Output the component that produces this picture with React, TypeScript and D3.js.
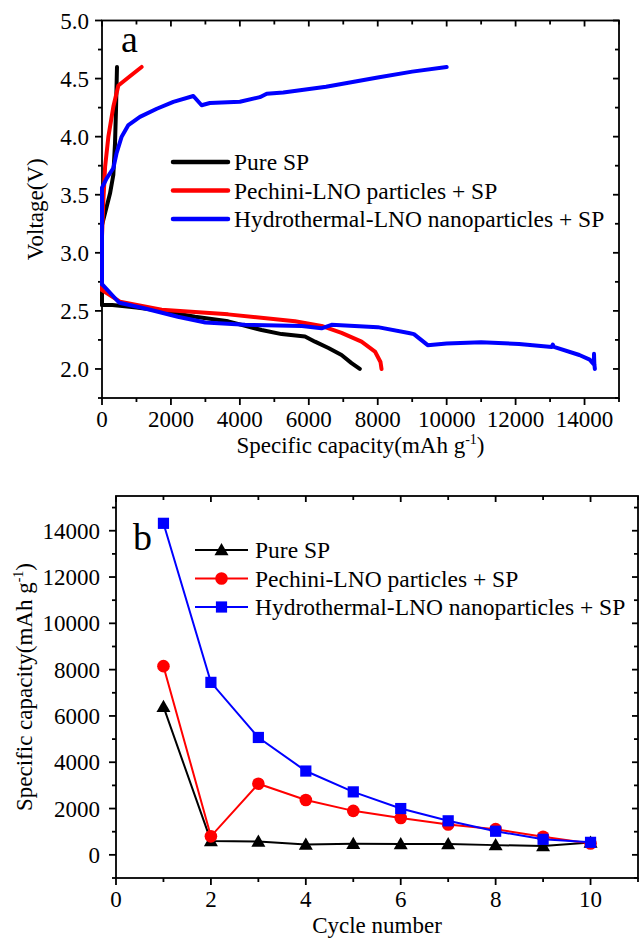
import React from "react";
import * as d3 from "d3";

type Pt = [number, number];

// ---- Panel a: charge/discharge profiles (capacity mAh/g, voltage V) ----
const pureSpDischarge: Pt[] = [[0,2.55],[300,2.55],[660,2.54],[1000,2.53],[1730,2.5],[2700,2.45],[3660,2.41],[4630,2.335],[5210,2.3],[5890,2.28],[6180,2.235],[6570,2.18],[6950,2.12],[7240,2.05],[7480,2.0]];
const pureSpCharge: Pt[] = [[0,2.55],[0,3.24],[87,3.34],[232,3.51],[328,3.67],[377,3.94],[406,4.23],[435,4.6]];
const pechiniDischarge: Pt[] = [[0,2.68],[520,2.58],[1730,2.51],[3660,2.47],[5600,2.41],[6370,2.37],[6950,2.31],[7530,2.235],[7920,2.15],[8080,2.06],[8110,2.0]];
const pechiniCharge: Pt[] = [[0,2.68],[0,3.14],[40,3.45],[90,3.74],[185,4.0],[330,4.26],[475,4.44],[810,4.52],[1150,4.6]];
const hydroDischarge: Pt[] = [[0,2.73],[500,2.57],[1250,2.52],[2200,2.45],[3000,2.4],[4150,2.38],[5800,2.37],[6370,2.35],[6660,2.38],[8000,2.36],[8900,2.31],[9050,2.3],[9450,2.205],[10000,2.22],[11000,2.23],[12100,2.215],[13050,2.19],[13080,2.21],[13110,2.19],[13850,2.12],[14150,2.08],[14270,2.04],[14275,2.13],[14285,2.04],[14300,2.0]];
const hydroCharge: Pt[] = [[0,2.73],[0,3.56],[135,3.64],[330,3.73],[425,3.86],[570,4.0],[765,4.1],[1100,4.17],[1590,4.24],[2070,4.3],[2650,4.35],[2890,4.27],[3130,4.29],[4000,4.3],[4580,4.34],[4780,4.37],[5260,4.38],[6500,4.43],[8000,4.51],[9000,4.56],[10000,4.6]];

const capacityTicksA = [0, 2000, 4000, 6000, 8000, 10000, 12000, 14000];
const voltageTicks = [2.0, 2.5, 3.0, 3.5, 4.0, 4.5, 5.0];

// ---- Panel b: cycling ----
const cycles = [1, 2, 3, 4, 5, 6, 7, 8, 9, 10];
const pureSpCycling = [6400, 600, 580, 450, 480, 470, 470, 420, 380, 530];
const pechiniCycling = [8150, 800, 3070, 2370, 1900, 1590, 1310, 1110, 780, 490];
const hydroCycling = [14320, 7450, 5070, 3620, 2720, 2000, 1470, 1020, 670, 540];

const cycleTicks = [0, 2, 4, 6, 8, 10];
const capacityTicksB = [0, 2000, 4000, 6000, 8000, 10000, 12000, 14000];

const seriesNames = ["Pure SP", "Pechini-LNO particles + SP", "Hydrothermal-LNO nanoparticles + SP"];
const seriesColors = ["#000000", "#ff0000", "#0000ff"];

const FONT = "Liberation Serif, DejaVu Serif, serif";
const FS = 23;
const AX = 1.8;
const txt: React.CSSProperties = { fontFamily: FONT, fontSize: FS };
const legendTxt: React.CSSProperties = { fontFamily: FONT, fontSize: 23.5 };

function Panel({ x0, x1, y0, y1, xs, ys, xMajor, xMinor, yMajor, yMinor, xFmt, yFmt, yGap }: any) {
  return (
    <g>
      <rect x={x0} y={y0} width={x1 - x0} height={y1 - y0} fill="none" stroke="#000" strokeWidth={AX} />
      {xMinor.map((v: number) => {
        const major = xMajor.includes(v);
        const L = major ? 7 : 4;
        const X = xs(v);
        return (
          <g key={"xt" + v}>
            <line x1={X} x2={X} y1={y1} y2={y1 + L} stroke="#000" strokeWidth={AX} />
            <line x1={X} x2={X} y1={y0} y2={y0 + (major ? 6 : 4)} stroke="#000" strokeWidth={AX} />
          </g>
        );
      })}
      {yMinor.map((v: number) => {
        const major = yMajor.includes(v);
        const L = major ? 7 : 4;
        const Y = ys(v);
        return (
          <g key={"yt" + v}>
            <line x1={x0 - L} x2={x0} y1={Y} y2={Y} stroke="#000" strokeWidth={AX} />
            <line x1={x1 - (major ? 6 : 4)} x2={x1} y1={Y} y2={Y} stroke="#000" strokeWidth={AX} />
          </g>
        );
      })}
      {xMajor.map((v: number) => (
        <text key={"xl" + v} x={xs(v)} y={y1 + 28.5} textAnchor="middle" style={txt}>
          {xFmt(v)}
        </text>
      ))}
      {yMajor.map((v: number) => (
        <text key={"yl" + v} x={x0 - yGap} y={ys(v) + 8} textAnchor="end" style={txt}>
          {yFmt(v)}
        </text>
      ))}
    </g>
  );
}

export default function App() {
  // panel a geometry
  const aL = 102, aR = 619, aT = 20.5, aB = 398;
  const xa = d3.scaleLinear().domain([0, 15000]).range([aL, aR]);
  const ya = d3.scaleLinear().domain([1.75, 5.0]).range([aB, aT]);
  const lineA = d3.line<Pt>().x((d) => xa(d[0])).y((d) => ya(d[1]));

  // panel b geometry
  const bL = 116, bR = 638, bT = 496, bB = 878;
  const xb = d3.scaleLinear().domain([0, 11]).range([bL, bR]);
  const yb = d3.scaleLinear().domain([-1000, 15500]).range([bB, bT]);
  const lineB = d3.line<number>().x((_, i) => xb(cycles[i])).y((d) => yb(d));

  const profiles = [
    [pureSpDischarge, pureSpCharge],
    [pechiniDischarge, pechiniCharge],
    [hydroDischarge, hydroCharge],
  ];
  const cycling = [pureSpCycling, pechiniCycling, hydroCycling];

  const marker = (k: number, cx: number, cy: number, key: string) => {
    const c = seriesColors[k];
    if (k === 0) {
      const s = 7;
      return <path key={key} d={`M${cx},${cy - s}L${cx + s},${cy + s * 0.75}L${cx - s},${cy + s * 0.75}Z`} fill={c} />;
    }
    if (k === 1) return <circle key={key} cx={cx} cy={cy} r={6.3} fill={c} />;
    return <rect key={key} x={cx - 5.6} y={cy - 5.6} width={11.2} height={11.2} fill={c} />;
  };

  return (
    <svg width={639} height={941} style={{ position: "absolute", left: 0, top: 0, background: "#fff" }}>
      <rect width={639} height={941} fill="#fff" />
      {/* Panel a */}
      <Panel
        x0={aL} x1={aR} y0={aT} y1={aB} xs={xa} ys={ya} yGap={13}
        xMajor={capacityTicksA} xMinor={d3.range(0, 15001, 1000)}
        yMajor={voltageTicks} yMinor={d3.range(7, 21).map((i) => i * 0.25)}
        xFmt={(v: number) => String(v)} yFmt={(v: number) => v.toFixed(1)}
      />
      {profiles.map((p, k) =>
        p.map((seg, j) => (
          <path key={`a${k}${j}`} d={lineA(seg) || ""} fill="none" stroke={seriesColors[k]} strokeWidth={4} strokeLinejoin="round" strokeLinecap="round" />
        ))
      )}
      <text x={121} y={52} style={{ fontFamily: FONT, fontSize: 38 }}>a</text>
      {seriesNames.map((n, k) => {
        const y = 162 + k * 28.5;
        return (
          <g key={"la" + k}>
            <line x1={173} x2={228} y1={y} y2={y} stroke={seriesColors[k]} strokeWidth={4.5} strokeLinecap="round" />
            <text x={234} y={y + 8} style={legendTxt}>{n}</text>
          </g>
        );
      })}
      <text x={(aL + aR) / 2} y={453} textAnchor="middle" style={txt}>
        Specific capacity(mAh g<tspan dy={-9} style={{ fontSize: 14 }}>-1</tspan><tspan dy={9}>)</tspan>
      </text>
      <text transform={`translate(43,${(aT + aB) / 2}) rotate(-90)`} textAnchor="middle" style={txt}>
        Voltage(V)
      </text>

      {/* Panel b */}
      <Panel
        x0={bL} x1={bR} y0={bT} y1={bB} xs={xb} ys={yb} yGap={16}
        xMajor={cycleTicks} xMinor={d3.range(0, 12, 1)}
        yMajor={capacityTicksB} yMinor={d3.range(-1000, 15001, 1000)}
        xFmt={(v: number) => String(v)} yFmt={(v: number) => String(v)}
      />
      {cycling.map((s, k) => (
        <g key={"b" + k}>
          <path d={lineB(s) || ""} fill="none" stroke={seriesColors[k]} strokeWidth={2} />
          {s.map((v, i) => marker(k, xb(cycles[i]), yb(v), `m${k}${i}`))}
        </g>
      ))}
      <text x={133} y={550} style={{ fontFamily: FONT, fontSize: 38 }}>b</text>
      {seriesNames.map((n, k) => {
        const y = 550 + k * 28.5;
        return (
          <g key={"lb" + k}>
            <line x1={195} x2={248} y1={y} y2={y} stroke={seriesColors[k]} strokeWidth={2} />
            {marker(k, 221.5, y, "lm" + k)}
            <text x={255} y={y + 8} style={legendTxt}>{n}</text>
          </g>
        );
      })}
      <text x={(bL + bR) / 2} y={933} textAnchor="middle" style={txt}>
        Cycle number
      </text>
      <text transform={`translate(32,${(bT + bB) / 2}) rotate(-90)`} textAnchor="middle" style={txt}>
        Specific capacity(mAh g<tspan dy={-9} style={{ fontSize: 14 }}>-1</tspan><tspan dy={9}>)</tspan>
      </text>
    </svg>
  );
}
